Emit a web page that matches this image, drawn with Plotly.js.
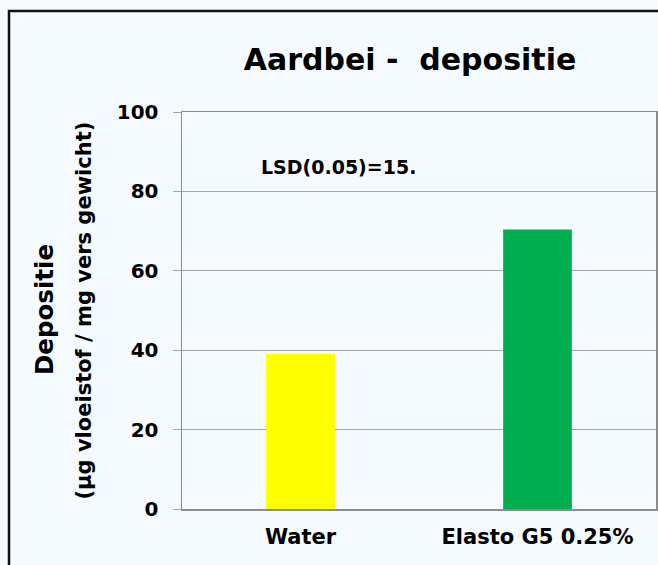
<!DOCTYPE html>
<html>
<head>
<meta charset="utf-8">
<script src="https://cdn.plot.ly/plotly-3.0.1.min.js"></script>
<style>html,body{margin:0;padding:0;background:#F5FAFE;}</style>
</head>
<body>
<div id="chart" style="width:658px;height:565px;"></div>
<script>
const categories = ["Water", "Elasto G5 0.25%"];
const depositie = [39.1, 70.4];
const barColors = ["#FFFF00", "#00B050"];
const yTicks = [0, 20, 40, 60, 80, 100];
const chartTitle = "Aardbei -  depositie";
const yTitleMain = "Depositie";
const yTitleSub = "(µg vloeistof / mg vers gewicht)";
const lsdText = "LSD(0.05)=15.";

const F = "DejaVu Sans, Verdana, sans-serif";
const bg = "#F5FAFE";

const trace = {
  type: "bar",
  x: categories,
  y: depositie,
  width: 0.29,
  marker: {color: barColors, line: {width: 0}},
  hoverinfo: "none"
};

const layout = {
  width: 658, height: 565,
  margin: {l: 182, r: 2, t: 112, b: 56},
  paper_bgcolor: bg,
  plot_bgcolor: bg,
  showlegend: false,
  title: {text: "<b>" + chartTitle + "</b>", font: {family: F, size: 30, color: "#000"},
          x: 410 / 658, xanchor: "center", y: 0.895, yanchor: "middle"},
  xaxis: {
    type: "category",
    range: [-0.5, 1.5],
    tickvals: categories,
    ticktext: categories.map(c => "<b>" + c + "</b>"),
    showline: true, linecolor: "#8c8c8c", linewidth: 1.5, mirror: true,
    showgrid: false, ticks: "",
    tickfont: {family: F, size: 21, color: "#000"},
    ticklabelstandoff: 8
  },
  yaxis: {
    range: [0, 100],
    tickvals: yTicks,
    ticktext: yTicks.map(v => "<b>" + v + "</b>"),
    showline: true, linecolor: "#8c8c8c", linewidth: 1.5, mirror: true,
    showgrid: true, gridcolor: "#a6a6a6", gridwidth: 1,
    ticks: "outside", ticklen: 8, tickcolor: "#a6a6a6", tickwidth: 1,
    tickfont: {family: F, size: 20, color: "#000"},
    ticklabelstandoff: 10,
    zeroline: false
  },
  annotations: [
    {text: "<b>" + yTitleMain + "</b>", xref: "paper", yref: "paper",
     x: (44 - 182) / 474, y: (509 - 310) / 397, textangle: -90, showarrow: false,
     xanchor: "center", yanchor: "middle", font: {family: F, size: 24.5, color: "#000"}},
    {text: "<b>" + yTitleSub + "</b>", xref: "paper", yref: "paper",
     x: (83 - 182) / 474, y: (509 - 310.5) / 397, textangle: -90, showarrow: false,
     xanchor: "center", yanchor: "middle", font: {family: F, size: 21, color: "#000"}},
    {text: "<b>" + lsdText + "</b>", xref: "paper", yref: "paper",
     x: (259 - 182) / 474, y: (509 - 167) / 397, showarrow: false,
     xanchor: "left", yanchor: "middle", font: {family: F, size: 19, color: "#000"}}
  ],
  shapes: [
    {type: "rect", xref: "paper", yref: "paper",
     x0: (9 - 182) / 474, x1: 1.2, y0: -0.3, y1: 1 + (112 - 11) / 397,
     line: {color: "#111", width: 2.5}, fillcolor: "rgba(0,0,0,0)", layer: "below"}
  ]
};

Plotly.newPlot("chart", [trace], layout, {displayModeBar: false, staticPlot: true});
</script>
</body>
</html>
